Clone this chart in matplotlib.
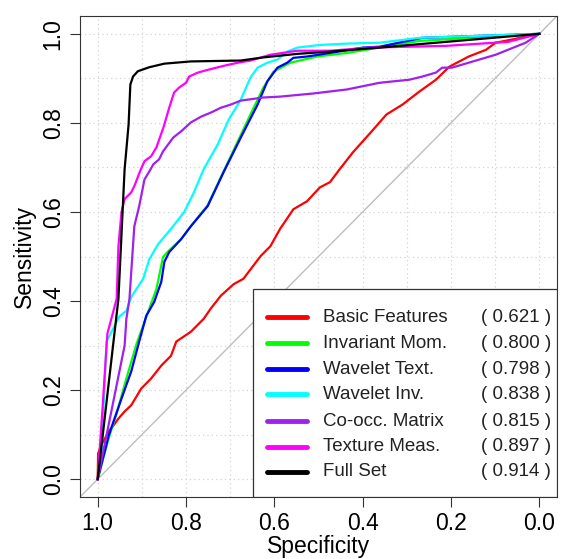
import matplotlib
matplotlib.use("Agg")
import matplotlib.pyplot as plt
from matplotlib.lines import Line2D
from matplotlib.patches import Rectangle
import numpy as np

plt.rcParams['font.family'] = ['Liberation Sans', 'DejaVu Sans']

# ROC curves: (specificity, sensitivity)
basic_spec = [1.0, 0.999, 0.99, 0.973, 0.964, 0.953, 0.939, 0.924, 0.901, 0.879, 0.856, 0.834, 0.822,
              0.789, 0.760, 0.744, 0.721, 0.692, 0.670, 0.631, 0.609, 0.587, 0.557, 0.526, 0.497,
              0.474, 0.452, 0.422, 0.384, 0.346, 0.310, 0.272, 0.234, 0.204, 0.160, 0.121, 0.099,
              0.063, 0.0]
basic_sens = [0.0, 0.058, 0.08, 0.110, 0.121, 0.136, 0.152, 0.166, 0.204, 0.226, 0.255, 0.277, 0.309,
              0.331, 0.360, 0.383, 0.412, 0.438, 0.450, 0.501, 0.523, 0.562, 0.606, 0.624, 0.655,
              0.667, 0.696, 0.734, 0.776, 0.819, 0.841, 0.870, 0.897, 0.926, 0.949, 0.964, 0.980,
              0.987, 1.0]

invmom_spec = [1.0, 0.975, 0.957, 0.935, 0.912, 0.883, 0.867, 0.852, 0.840, 0.811, 0.789, 0.751,
               0.715, 0.654, 0.625, 0.602, 0.564, 0.503, 0.436, 0.362, 0.272, 0.0]
invmom_sens = [0.0, 0.092, 0.148, 0.226, 0.304, 0.383, 0.427, 0.499, 0.512, 0.539, 0.568, 0.615,
               0.691, 0.819, 0.879, 0.915, 0.935, 0.949, 0.957, 0.969, 0.984, 1.0]

wavtext_spec = [1.0, 0.975, 0.964, 0.946, 0.924, 0.906, 0.890, 0.872, 0.856, 0.849, 0.838, 0.811,
                0.789, 0.751, 0.715, 0.676, 0.638, 0.616, 0.593, 0.571, 0.557, 0.526, 0.474, 0.400,
                0.362, 0.265, 0.0]
wavtext_sens = [0.0, 0.098, 0.130, 0.181, 0.242, 0.309, 0.367, 0.398, 0.443, 0.488, 0.510, 0.539,
                0.568, 0.613, 0.689, 0.767, 0.841, 0.893, 0.924, 0.935, 0.946, 0.949, 0.957, 0.969,
                0.971, 0.991, 1.0]

wavinv_spec = [1.0, 0.991, 0.980, 0.951, 0.935, 0.924, 0.897, 0.883, 0.863, 0.834, 0.804, 0.782,
               0.760, 0.728, 0.703, 0.676, 0.654, 0.638, 0.616, 0.593, 0.571, 0.548, 0.497, 0.436,
               0.362, 0.272, 0.0]
wavinv_sens = [0.0, 0.069, 0.309, 0.365, 0.378, 0.409, 0.450, 0.494, 0.528, 0.562, 0.600, 0.644,
               0.696, 0.752, 0.808, 0.852, 0.902, 0.924, 0.935, 0.942, 0.960, 0.969, 0.975, 0.978,
               0.980, 0.991, 1.0]

cooc_spec = [1.0, 0.939, 0.935, 0.928, 0.924, 0.917, 0.906, 0.894, 0.883, 0.874, 0.861, 0.852, 0.829,
             0.811, 0.789, 0.766, 0.744, 0.721, 0.699, 0.676, 0.625, 0.587, 0.512, 0.436, 0.362,
             0.294, 0.265, 0.234, 0.220, 0.198, 0.099, 0.031, 0.0]
cooc_sens = [0.0, 0.300, 0.360, 0.405, 0.465, 0.568, 0.613, 0.673, 0.691, 0.707, 0.718, 0.736, 0.767,
             0.781, 0.801, 0.814, 0.823, 0.834, 0.841, 0.850, 0.857, 0.859, 0.866, 0.875, 0.890,
             0.897, 0.904, 0.913, 0.924, 0.924, 0.953, 0.980, 1.0]

texture_spec = [1.0, 0.989, 0.978, 0.957, 0.953, 0.946, 0.939, 0.924, 0.917, 0.903, 0.894, 0.879,
                0.867, 0.851, 0.838, 0.827, 0.816, 0.800, 0.793, 0.773, 0.751, 0.715, 0.683, 0.654,
                0.609, 0.548, 0.474, 0.384, 0.211, 0.070, 0.0]
texture_sens = [0.0, 0.159, 0.327, 0.405, 0.523, 0.600, 0.629, 0.644, 0.658, 0.694, 0.714, 0.725,
                0.745, 0.790, 0.834, 0.868, 0.879, 0.890, 0.904, 0.913, 0.919, 0.928, 0.935, 0.940,
                0.953, 0.962, 0.962, 0.969, 0.973, 0.982, 1.0]

full_spec = [1.0, 0.953, 0.939, 0.930, 0.926, 0.920, 0.909, 0.883, 0.849, 0.789, 0.676, 0.625, 0.548,
             0.474, 0.362, 0.0]
full_sens = [0.0, 0.405, 0.696, 0.796, 0.886, 0.904, 0.916, 0.925, 0.933, 0.938, 0.940, 0.947, 0.955,
             0.960, 0.969, 1.0]

names = ["Basic Features", "Invariant Mom.", "Wavelet Text.", "Wavelet Inv.",
         "Co-occ. Matrix", "Texture Meas.", "Full Set"]
aucs = ["0.621", "0.800", "0.798", "0.838", "0.815", "0.897", "0.914"]
colors = ["#FF0000", "#00FF00", "#0000FF", "#00FFFF", "#A020F0", "#FF00FF", "#000000"]

curves = [(basic_spec, basic_sens), (invmom_spec, invmom_sens), (wavtext_spec, wavtext_sens),
          (wavinv_spec, wavinv_sens), (cooc_spec, cooc_sens), (texture_spec, texture_sens),
          (full_spec, full_sens)]

fig = plt.figure(figsize=(5.61, 5.59), dpi=100)
ax = fig.add_axes([80/561, 1-497/559, 477/561, 481/559])

ax.set_xlim(1.04, -0.04)
ax.set_ylim(-0.04, 1.04)

# dotted grid every 0.1
for g in np.arange(0, 1.01, 0.1):
    ax.axvline(g, color='#D3D3D3', lw=0.9, ls=(0, (1, 2.5)), zorder=0)
    ax.axhline(g, color='#D3D3D3', lw=0.9, ls=(0, (1, 2.5)), zorder=0)

ax.axline((1, 0), (0, 1), color='#BEBEBE', lw=1.0, zorder=1)

for (sp, se), c in zip(curves, colors):
    ax.plot(sp, se, color=c, lw=1.6, zorder=2)

ticks = [1.0, 0.8, 0.6, 0.4, 0.2, 0.0]
ax.set_xticks(ticks)
ax.set_xticklabels(["%.1f" % t for t in ticks])
ax.set_yticks(ticks)
ax.set_yticklabels(["%.1f" % t for t in ticks], rotation=90, va='center')
ax.tick_params(axis='both', direction='out', length=7, width=0.8, labelsize=16.5, pad=4,
               color='#333333')
for s in ax.spines.values():
    s.set_linewidth(0.8)
    s.set_color('#333333')

ax.set_xlabel("Specificity", fontsize=16.5, labelpad=0)
ax.set_ylabel("Sensitivity", fontsize=16.5, labelpad=4)

# legend box drawn by hand in axes coordinates
lx0, ly1 = 0.3627, 0.4324
ax.add_patch(Rectangle((lx0, 0.0), 1 - lx0, ly1, transform=ax.transAxes, facecolor='white',
                       edgecolor='#333333', lw=0.9, zorder=5))
rows = [0.374, 0.320, 0.266, 0.214, 0.158, 0.104, 0.052]
for yy, n, a, c in zip(rows, names, aucs, colors):
    ax.add_line(Line2D([0.392, 0.476], [yy, yy], transform=ax.transAxes, color=c, lw=3.5,
                       solid_capstyle='round', zorder=6))
    ax.text(0.509, yy, n, transform=ax.transAxes, fontsize=13.5, va='center', ha='left', zorder=6,
            color='#222222')
    ax.text(0.987, yy, "( %s )" % a, transform=ax.transAxes, fontsize=13.5, va='center',
            ha='right', zorder=6, color='#222222')

fig.savefig("out.png", dpi=100)
